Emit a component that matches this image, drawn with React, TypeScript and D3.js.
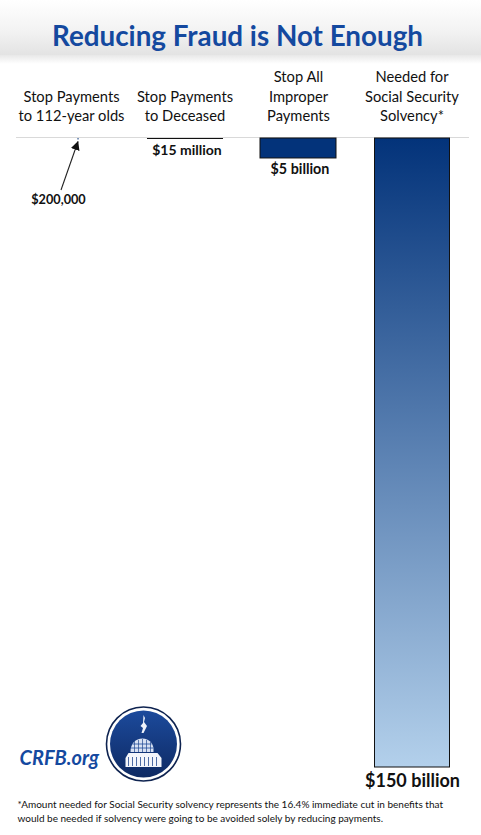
import React from "react";
import * as d3 from "d3";

const categories = ["112", "deceased", "improper", "solvency"];
const categoryLines = [
  ["Stop Payments", "to 112-year olds"],
  ["Stop Payments", "to Deceased"],
  ["Stop All", "Improper", "Payments"],
  ["Needed for", "Social Security", "Solvency*"],
];
const valuesBillions = [0.0002, 0.015, 5, 150];
const valueLabels = ["$200,000", "$15 million", "$5 billion", "$150 billion"];
const footnote = [
  "*Amount needed for Social Security solvency represents the 16.4% immediate cut in benefits that",
  "would be needed if solvency were going to be avoided solely by reducing payments.",
];

const W = 481, H = 835;
const FONT = "Lato, Carlito, 'Open Sans', sans-serif";

export default function App() {
  const x = d3.scaleBand<string>().domain(categories).range([33.5, 450]).paddingInner(0.33).paddingOuter(0);
  const y = d3.scaleLinear().domain([0, 150]).range([138, 767]);
  const bw = x.bandwidth();
  const cx = (i: number) => (x(categories[i]) as number) + bw / 2;
  const snap = (v: number) => Math.round(v) + 0.5;
  return (
    <svg width={W} height={H} viewBox={`0 0 ${W} ${H}`} style={{ position: "absolute", left: 0, top: 0, background: "#fff" }}>
      <defs>
        <linearGradient id="head" x1="0" x2="0" y1="0" y2="1">
          <stop offset="0" stopColor="#ffffff" />
          <stop offset="0.55" stopColor="#f3f3f3" />
          <stop offset="1" stopColor="#e3e3e3" />
        </linearGradient>
        <linearGradient id="fade" x1="0" x2="0" y1="0" y2="1">
          <stop offset="0" stopColor="#e8e8e8" />
          <stop offset="1" stopColor="#ffffff" />
        </linearGradient>
        <linearGradient id="bar" x1="0" x2="0" y1="0" y2="1">
          <stop offset="0" stopColor="#03337a" />
          <stop offset="1" stopColor="#b3d0eb" />
        </linearGradient>
        <linearGradient id="logo" x1="0" x2="0" y1="0" y2="1">
          <stop offset="0" stopColor="#1c4a9c" />
          <stop offset="1" stopColor="#0e2a63" />
        </linearGradient>
        <marker id="arrow" markerWidth="10" markerHeight="10" refX="8.5" refY="4.5" orient="auto" markerUnits="userSpaceOnUse">
          <path d="M0,0 L9,4.5 L0,9 Z" fill="#111" />
        </marker>
      </defs>

      <rect x={0} y={0} width={W} height={55} fill="url(#head)" />
      <rect x={0} y={55} width={W} height={9} fill="url(#fade)" />
      <text x={237.5} y={46} textAnchor="middle" fontFamily={FONT} fontWeight={700} fontSize={27.8} fill="#14499f">
        Reducing Fraud is Not Enough
      </text>

      <line x1={16} x2={469} y1={137.5} y2={137.5} stroke="#d9d9d9" strokeWidth={1} />

      {categoryLines.map((lines, i) => (
        <text key={categories[i]} textAnchor="middle" fontFamily={FONT} fontSize={14.7} fill="#111">
          {lines.map((l, j) => (
            <tspan key={j} x={cx(i)} y={121 + (j - lines.length + 1) * 19.5}>{l}</tspan>
          ))}
        </text>
      ))}

      {/* bars */}
      <rect x={cx(0) + 6} y={y(0)} width={1} height={Math.max(y(valuesBillions[0]) - y(0), 1.5)} fill="#03337a" />
      <line x1={x(categories[1]) as number} x2={(x(categories[1]) as number) + bw} y1={snap(y(valuesBillions[1]))} y2={snap(y(valuesBillions[1]))} stroke="#111" strokeWidth={1} />
      <rect x={snap(x(categories[2]) as number) - 0.5} y={y(0)} width={Math.round(bw)} height={y(valuesBillions[2]) - y(0) - 1} fill="#03337a" stroke="#111" strokeWidth={1} />
      <rect x={snap(x(categories[3]) as number)} y={y(0)} width={Math.round(bw) - 1} height={y(valuesBillions[3]) - y(0)} fill="url(#bar)" stroke="#111" strokeWidth={1} />

      <line x1={61} x2={78} y1={190} y2={141.5} stroke="#222" strokeWidth={1.1} markerEnd="url(#arrow)" />

      <g fontFamily={FONT} fontWeight={700} fill="#111" textAnchor="middle">
        <text x={58.5} y={204} fontSize={12.7}>{valueLabels[0]}</text>
        <text x={187} y={155} fontSize={14}>{valueLabels[1]}</text>
        <text x={300} y={174} fontSize={14.3}>{valueLabels[2]}</text>
        <text x={412.5} y={787} fontSize={18}>{valueLabels[3]}</text>
      </g>

      <text x={19.5} y={765} fontFamily={FONT} fontWeight={700} fontStyle="italic" fontSize={20} fill="#14499f">CRFB.org</text>

      <g transform="translate(143.5,744)">
        <circle r={37} fill="#fff" stroke="#0e2350" strokeWidth={1.6} />
        <circle r={33.5} fill="url(#logo)" />
        {/* statue */}
        <path d="M0,-29 L1.5,-26 L0.5,-22 L3.5,-18 L0,-11 L-2,-11 L-0.5,-16 L-3,-18 L-0.5,-21 Z" fill="#eef2fa" />
        {/* dome */}
        <path d="M-13,8 C-13,-1 -8,-5 -1,-5.5 C6,-5 9,-1 10,4 L10,8 Z" fill="#d8e1f2" />
        <path d="M-11,0 H8 M-13,4 H10" stroke="#1c4a9c" strokeWidth={0.8} />
        <path d="M-9,-3 V8 M-5,-4 V8 M-1,-5 V8 M3,-4 V8 M7,-2 V8" stroke="#23498f" strokeWidth={0.7} />
        {/* base */}
        <path d="M-18,14 L-15,9 L14,9 L18,14 L18,23 L-18,23 Z" fill="#f4f6fb" />
        <path d="M-15,13 V22 M-11,13 V22 M-7,13 V22 M-3,13 V22 M1,13 V22 M5,13 V22 M9,13 V22 M13,13 V22" stroke="#23498f" strokeWidth={0.8} />
      </g>

      <text fontFamily={FONT} fontSize={10} fill="#111">
        <tspan x={17.5} y={808}>{footnote[0]}</tspan>
        <tspan x={17.5} y={822}>{footnote[1]}</tspan>
      </text>
    </svg>
  );
}
